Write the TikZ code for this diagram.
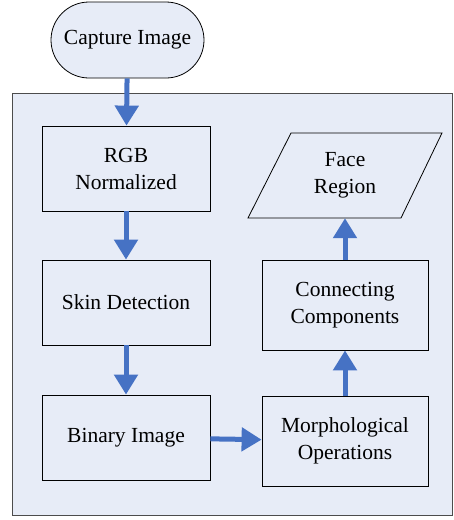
\documentclass[tikz,border=0pt]{standalone}
\usepackage{fontspec}
\setmainfont{Liberation Serif}
\usetikzlibrary{arrows.meta}

\definecolor{panelblue}{RGB}{231,236,247}
\definecolor{flowblue}{RGB}{70,114,196}

\tikzset{
  stepbox/.style={draw=black, fill=panelblue, line width=0.8pt, align=center,
                  minimum width=168pt, minimum height=85pt, inner sep=2pt},
  startbox/.style={draw=black, fill=panelblue, line width=0.8pt,
                   rounded corners=38pt, minimum width=153pt, minimum height=76pt},
  outbox/.style={align=center, minimum width=194pt, minimum height=85pt, inner sep=2pt},
  flow/.style={flowblue, line width=5pt, -{Triangle[length=20pt,width=23pt]}}
}

\begin{document}
\begin{tikzpicture}[x=1pt, y=-1pt, font=\fontsize{21.5}{27}\selectfont]
    \useasboundingbox (0,0) rectangle (454,520);

    % processing panel
    \node[draw=black!70, fill=panelblue, line width=0.8pt,
          minimum width=440pt, minimum height=422pt] (panel) at (232,304) {};

    \node[startbox] (capture) at (127.5,40)    {Capture Image};

    \node[stepbox]  (rgb)     at (126,168.5)   {RGB\\Normalized};
    \node[stepbox]  (skin)    at (126,302.5)   {Skin Detection};
    \node[stepbox]  (binary)  at (126,437.5)   {Binary Image};

    \node[stepbox, minimum width=166pt, minimum height=90pt]
                    (morph)   at (345,441)     {Morphological\\Operations};
    \node[stepbox, minimum width=166pt, minimum height=90pt]
                    (conn)    at (345,305)     {Connecting\\Components};

    % output parallelogram
    \draw[fill=panelblue, line width=0.8pt]
        (248,218) -- (291,133) -- (442,133) -- (401,218) -- cycle;
    \node[outbox]   (face)    at (345,175.5)   {Face\\Region};

    % flow
    \draw[flow] (capture) -- (rgb);
    \draw[flow] (rgb)     -- (skin);
    \draw[flow] (skin)    -- (binary);
    \draw[flow] (binary)  -- (morph);
    \draw[flow] (morph)   -- (conn);
    \draw[flow] (conn)    -- (face);
\end{tikzpicture}
\end{document}
